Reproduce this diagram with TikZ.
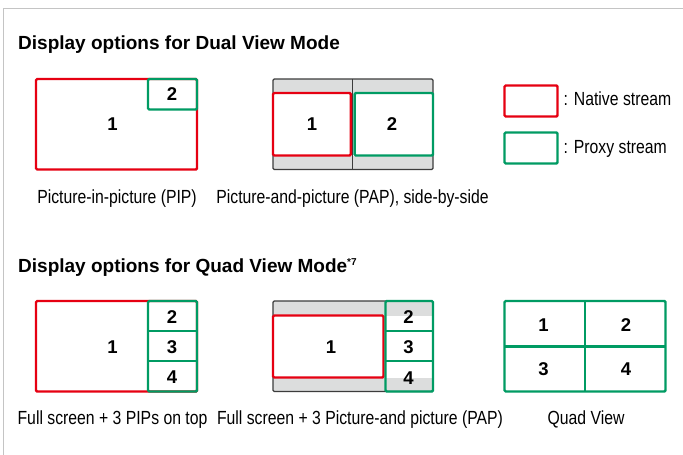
\documentclass[tikz,border=0pt]{standalone}
\usepackage{fontspec}
\setmainfont{Liberation Sans}
\newfontfamily\capfont{Liberation Sans}[FakeStretch=0.83]
\definecolor{nred}{HTML}{E60012}
\definecolor{pgreen}{HTML}{009B63}
\definecolor{band}{HTML}{DCDDDD}
\definecolor{edgegray}{HTML}{3C3C3C}
\definecolor{framegray}{HTML}{C4C4C4}
\begin{document}
\begin{tikzpicture}[x=1pt,y=-1pt,
  native/.style={draw=nred,line width=2.4pt,rounded corners=1.2pt},
  proxy/.style={draw=pgreen,line width=2.4pt,rounded corners=1.2pt},
  proxyline/.style={draw=pgreen,line width=2.4pt},
  screenbox/.style={draw=edgegray,line width=1.3pt,fill=band,rounded corners=1.2pt},
  divider/.style={draw=edgegray,line width=1.3pt},
  numtext/.style={font=\fontsize{18.5}{20}\selectfont\bfseries,inner sep=0pt},
  captext/.style={font=\capfont\fontsize{19}{21}\selectfont,inner sep=0pt,anchor=base},
  legendtext/.style={font=\capfont\fontsize{19}{21}\selectfont,inner sep=0pt,anchor=west},
  headtext/.style={font=\fontsize{19}{22}\selectfont\bfseries,inner sep=0pt,anchor=base west}]
\useasboundingbox (0,0) rectangle (683,455);
\fill[white] (0,0) rectangle (683,455);
% frame
\draw[framegray,line width=1.5pt] (683,8.5) -- (3.5,8.5) -- (3.5,455);

% titles
\node[headtext] (t1) at (18,49) {Display options for Dual View Mode};
\node[headtext] (t2) at (18,272) {Display options for Quad View Mode\raisebox{6.5pt}{\fontsize{10}{10}\selectfont *7}};

% ---- Dual: PIP
\path[native] (36,79) rectangle (197,169.5);
\path[proxy] (148,79) rectangle (197,109.5);
\node[numtext] (d1) at (112.5,124) {1};
\node[numtext] (d2) at (172,94.5) {2};
\node[captext] (c1) at (117,203) {Picture-in-picture (PIP)};

% ---- Dual: PAP
\path[screenbox] (273,79) rectangle (433,169.5);
\fill[white] (273,93) rectangle (433,155.5);
\path[divider] (352.8,79) -- (352.8,169.5);
\path[native] (273,93) rectangle (350.8,155.5);
\path[proxy] (354.6,93) rectangle (433,155.5);
\node[numtext] (p1) at (312,124) {1};
\node[numtext] (p2) at (392,124) {2};
\node[captext] (c2) at (352.5,203) {Picture-and-picture (PAP), side-by-side};

% ---- Legend
\path[native] (504.5,85.5) rectangle (557.5,116.5);
\path[proxy] (504.5,132.5) rectangle (557.5,163.5);
\node[legendtext] (l1) at (563.5,99) {: Native stream};
\node[legendtext] (l2) at (563.5,149) {: Proxy stream};

% ---- Quad: PIPs on top
\path[native] (36,301) rectangle (197,391.5);
\path[proxy] (148,301) rectangle (197,391.5);
\path[proxyline] (148,330.8) -- (197,330.8);
\path[proxyline] (148,361) -- (197,361);
\node[numtext] (q1) at (112.5,347) {1};
\node[numtext] (q2) at (172,317) {2};
\node[numtext] (q3) at (172,347) {3};
\node[numtext] (q4) at (172,377.5) {4};
\node[captext] (c3) at (112.5,424) {Full screen + 3 PIPs on top};

% ---- Quad: PAP
\path[screenbox] (273,301) rectangle (433,391.5);
\fill[white] (273,315.5) rectangle (433,377.5);
\path[native] (273,315.5) rectangle (383.5,377.5);
\path[proxy] (385.5,301) rectangle (433,391.5);
\path[proxyline] (385.5,331) -- (433,331);
\path[proxyline] (385.5,361) -- (433,361);
\node[numtext] (r1) at (331,347) {1};
\node[numtext] (r2) at (408.5,317) {2};
\node[numtext] (r3) at (408.5,347) {3};
\node[numtext] (r4) at (408.5,378) {4};
\node[captext] (c4) at (360,424) {Full screen + 3 Picture-and picture (PAP)};

% ---- Quad View
\path[proxy] (504.5,301) rectangle (665.5,391.5);
\path[proxyline] (585,301) -- (585,391.5);
\path[proxyline] (504.5,346.5) -- (665.5,346.5);
\node[numtext] (v1) at (543.5,325) {1};
\node[numtext] (v2) at (626,325) {2};
\node[numtext] (v3) at (543.5,369) {3};
\node[numtext] (v4) at (626,369) {4};
\node[captext] (c5) at (586,424) {Quad View};
\end{tikzpicture}
\end{document}
